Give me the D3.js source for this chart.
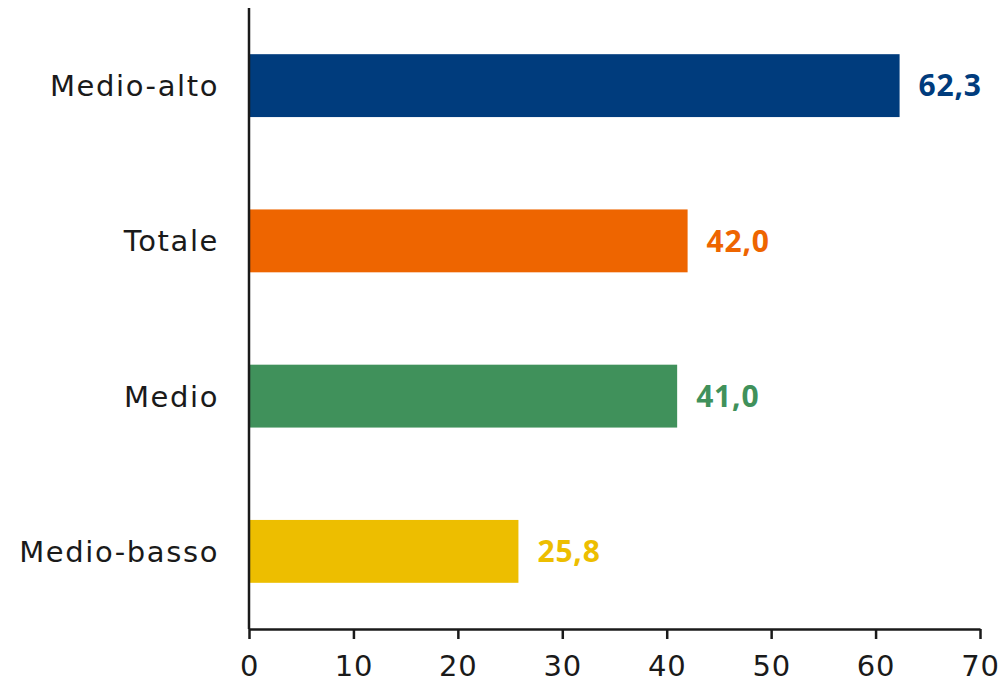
<!DOCTYPE html>
<html><head><meta charset="utf-8">
<script src="https://cdn.jsdelivr.net/npm/d3@7"></script>
<style>body{margin:0;background:#fff}</style>
</head><body>
<svg id="c" width="1001" height="686"></svg>
<script>
const categories = ["Medio-alto", "Totale", "Medio", "Medio-basso"];
const values = [62.3, 42.0, 41.0, 25.8];
const colors = ["#003c7d", "#ee6500", "#40915b", "#edbe00"];
const tickValues = [0, 10, 20, 30, 40, 50, 60, 70];

(function () {
const svg = d3.select("#c");
const mLeft = 249, mRight = 980, mTop = 8, mBottom = 629;
const x = d3.scaleLinear().domain([0, 70]).range([mLeft, mRight]);
const y = d3.scaleBand().domain(categories).range([mTop, mBottom]).paddingInner(0.595).paddingOuter(0.2975);

svg.selectAll("rect.bar").data(values).join("rect")
  .attr("x", x(0)).attr("y", (d, i) => y(categories[i]))
  .attr("width", d => x(d) - x(0)).attr("height", y.bandwidth())
  .attr("fill", (d, i) => colors[i]);

svg.selectAll("text.val").data(values).join("text")
  .attr("x", d => x(d) + 19).attr("y", (d, i) => y(categories[i]) + y.bandwidth() / 2)
  .attr("dy", "0.36em")
  .attr("font-family", "'Open Sans', sans-serif").attr("font-weight", "bold").attr("font-size", 30)
  .attr("letter-spacing", 0.8)
  .attr("fill", (d, i) => colors[i])
  .text(d => d3.format(".1f")(d).replace(".", ","));

svg.selectAll("text.cat").data(categories).join("text")
  .attr("x", 219).attr("y", d => y(d) + y.bandwidth() / 2)
  .attr("dy", "0.36em").attr("text-anchor", "end")
  .attr("font-family", "'DejaVu Sans', sans-serif").attr("font-size", 29).attr("fill", "#1a1a1a")
  .attr("letter-spacing", 1.6)
  .text(d => d);

const xa = svg.append("g").attr("transform", `translate(0,${mBottom})`)
  .call(d3.axisBottom(x).tickValues(tickValues).tickSize(10).tickSizeOuter(0).tickPadding(16));
xa.selectAll("path,line").attr("stroke", "#1a1a1a").attr("stroke-width", 2.5);
xa.selectAll("text").attr("font-family", "'DejaVu Sans', sans-serif").attr("font-size", 29).attr("fill", "#1a1a1a")
  .attr("letter-spacing", 0.8);

svg.append("line").attr("x1", mLeft).attr("x2", mLeft).attr("y1", mTop).attr("y2", mBottom)
  .attr("stroke", "#1a1a1a").attr("stroke-width", 2.5);
})();
</script>
</body></html>
